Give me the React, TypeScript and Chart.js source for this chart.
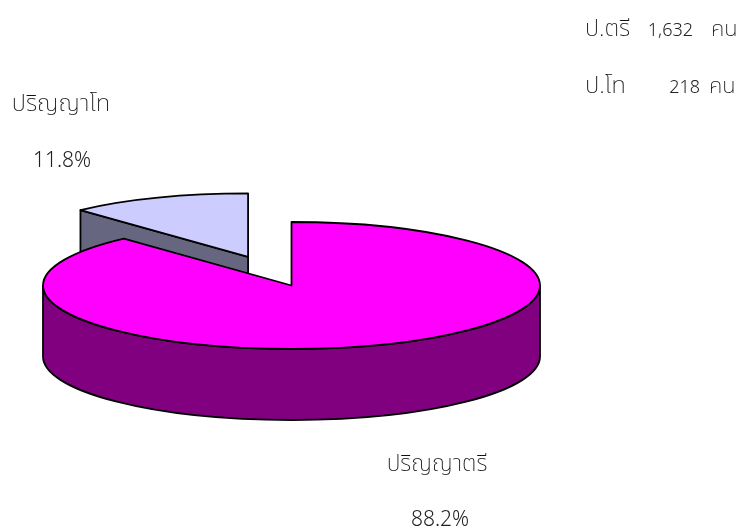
import React, { useEffect, useRef } from "react";
import { Chart, registerables } from "chart.js";

Chart.register(...registerables);

const categories = ["ปริญญาตรี", "ปริญญาโท"];
const seriesValues = [1632, 218];
const topColors = ["#FF00FF", "#CCCCFF"];
const sideColors = ["#800080", "#666680"];
const percentLabels = ["88.2%", "11.8%"];
const countLines = [
  { text: "ป.ตรี", x: 585, y: 36, size: 23.5, thai: true },
  { text: "1,632", x: 693, y: 36, size: 18, align: "right" },
  { text: "คน", x: 711, y: 36, size: 22, thai: true },
  { text: "ป.โท", x: 585, y: 93, size: 24, thai: true },
  { text: "218", x: 700, y: 93, size: 18, align: "right" },
  { text: "คน", x: 709, y: 93, size: 22, thai: true },
];
const labelSpots = [
  { x: 437, y: 471, px: 440, py: 526 },
  { x: 61, y: 111, px: 62, py: 167 },
];
const labelSizes = [23, 23.7];

const SQUASH = 0.2555;
const DEPTH = 71;
const EXPLODE = 120;
const LINE = 1.8;
const FONT = '"Noto Sans", "Open Sans", sans-serif';
const THAI_FONT = '"Noto Sans Thai", "Noto Sans", sans-serif';

const pie3d = {
  id: "pie3d",
  beforeDatasetsDraw(chart: any) {
    const { ctx } = chart;
    const arcs = chart.getDatasetMeta(0).data;
    const geom = arcs.map((arc: any, i: number) => {
      const p = arc.getProps(["x", "y", "startAngle", "endAngle", "outerRadius"]);
      const mid = (p.startAngle + p.endAngle) / 2;
      const off = i === 1 ? EXPLODE : 0;
      return { ...p, arc, i, dx: Math.cos(mid) * off, dy: Math.sin(mid) * off * SQUASH };
    });
    const ellipsePath = (g: any, from: number, to: number, shift: number, ccw = false) => {
      ctx.ellipse(g.x + g.dx, g.y + g.dy + shift, g.outerRadius, g.outerRadius * SQUASH, 0, from, to, ccw);
    };
    const rim = (g: any, a: number) => [
      g.x + g.dx + Math.cos(a) * g.outerRadius,
      g.y + g.dy + Math.sin(a) * g.outerRadius * SQUASH,
    ];
    const finish = (fill: string) => {
      ctx.fillStyle = fill;
      ctx.fill();
      ctx.strokeStyle = "#000000";
      ctx.lineWidth = LINE;
      ctx.lineJoin = "round";
      ctx.stroke();
    };
    const wall = (g: any, a: number, color: string) => {
      const [rx, ry] = rim(g, a);
      ctx.beginPath();
      ctx.moveTo(g.x + g.dx, g.y + g.dy);
      ctx.lineTo(rx, ry);
      ctx.lineTo(rx, ry + DEPTH);
      ctx.lineTo(g.x + g.dx, g.y + g.dy + DEPTH);
      ctx.closePath();
      finish(color);
    };
    [...geom].reverse().forEach((g: any) => {
      // radial walls that face the viewer
      if (Math.sin(g.startAngle - Math.PI / 2) > 0.01) wall(g, g.startAngle, sideColors[g.i]);
      if (Math.sin(g.endAngle + Math.PI / 2) > 0.01) wall(g, g.endAngle, sideColors[g.i]);
      // outer wall: the part of the rim on the near half
      const lo = Math.max(g.startAngle, 0);
      const hi = Math.min(g.endAngle, Math.PI);
      if (hi > lo) {
        ctx.beginPath();
        ellipsePath(g, lo, hi, 0);
        ellipsePath(g, hi, lo, DEPTH, true);
        ctx.closePath();
        finish(sideColors[g.i]);
      }
      // top face
      ctx.save();
      ctx.translate(g.dx, g.dy);
      ctx.translate(g.x, g.y);
      ctx.scale(1, SQUASH);
      ctx.translate(-g.x, -g.y);
      g.arc.draw(ctx);
      ctx.restore();
      ctx.beginPath();
      ctx.moveTo(g.x + g.dx, g.y + g.dy);
      ellipsePath(g, g.startAngle, g.endAngle, 0);
      ctx.closePath();
      ctx.strokeStyle = "#000000";
      ctx.lineWidth = LINE;
      ctx.lineJoin = "round";
      ctx.stroke();
    });
    return false;
  },
  afterDraw(chart: any) {
    const { ctx } = chart;
    ctx.save();
    ctx.textBaseline = "alphabetic";
    categories.forEach((c, i) => {
      const s = labelSpots[i];
      ctx.textAlign = "center";
      ctx.fillStyle = "#111111";
      ctx.font = `200 ${labelSizes[i]}px ${THAI_FONT}`;
      ctx.fillText(c, s.x, s.y);
      ctx.fillStyle = "#222222";
      ctx.font = `300 21px ${FONT}`;
      ctx.fillText(percentLabels[i], s.px, s.py);
    });
    countLines.forEach((l: any) => {
      ctx.textAlign = l.align || "left";
      ctx.fillStyle = l.thai ? "#111111" : "#222222";
      ctx.font = l.thai ? `200 ${l.size}px ${THAI_FONT}` : `300 ${l.size}px ${FONT}`;
      ctx.fillText(l.text, l.x, l.y);
    });
    ctx.restore();
  },
};

export default function App() {
  const ref = useRef<HTMLCanvasElement>(null);
  useEffect(() => {
    const chart = new Chart(ref.current!, {
      type: "pie",
      data: {
        labels: categories,
        datasets: [{ data: seriesValues, backgroundColor: topColors, borderWidth: 0 }],
      },
      options: {
        animation: false,
        responsive: false,
        radius: 248.5,
        rotation: 0,
        layout: { padding: { left: 0, right: 156, top: 43, bottom: 0 } },
        plugins: { legend: { display: false }, tooltip: { enabled: false } },
      } as any,
      plugins: [pie3d as any],
    });
    return () => chart.destroy();
  }, []);
  return (
    <canvas
      ref={ref}
      width={739}
      height={528}
      style={{ position: "fixed", left: 0, top: 0, display: "block", background: "#ffffff" }}
    />
  );
}
